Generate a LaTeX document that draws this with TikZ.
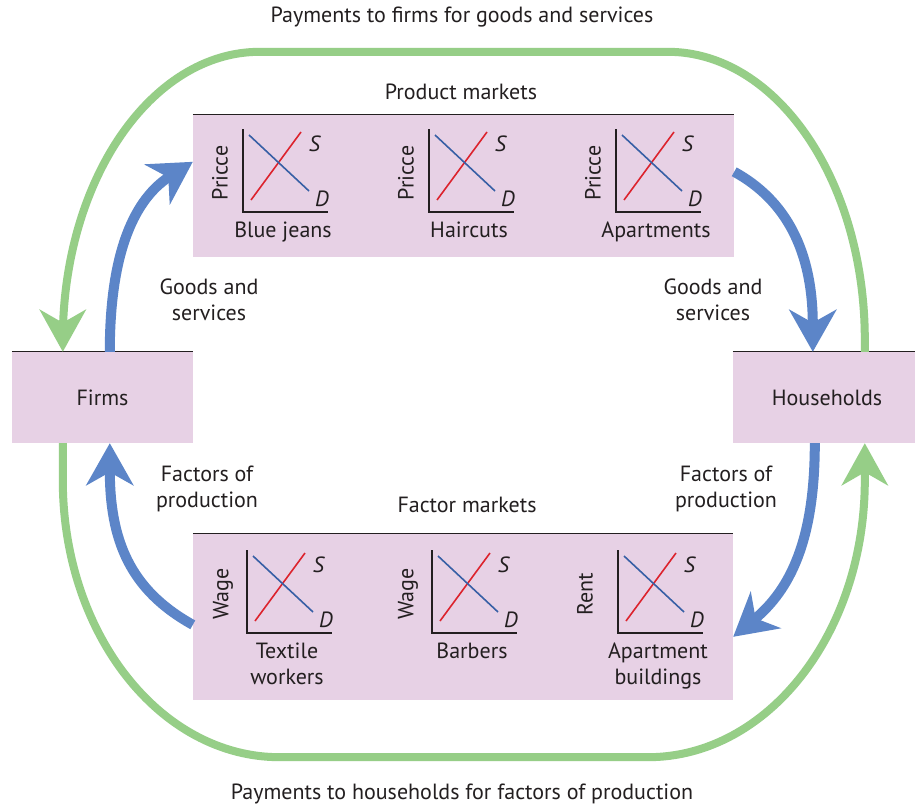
\documentclass[tikz,border=0pt]{standalone}
\usepackage{fontspec}
\setmainfont{PT Sans}
\usetikzlibrary{arrows.meta,calc}
\definecolor{boxfill}{RGB}{231,209,229}
\definecolor{payg}{RGB}{150,206,135}
\definecolor{flowb}{RGB}{92,133,200}
\definecolor{supr}{RGB}{220,35,45}
\definecolor{demb}{RGB}{55,95,165}
\definecolor{ink}{RGB}{35,31,32}
\tikzset{
  box/.style={fill=boxfill, draw=none, inner sep=0pt, font=\fontsize{22}{26}\selectfont, text=ink},
  topline/.style={draw=ink, line width=1.3pt},
  lbl/.style={font=\fontsize{22}{26}\selectfont, text=ink, inner sep=0pt, align=center},
  greenflow/.style={draw=payg, line width=8pt, -{Stealth[length=42pt, width=46pt, inset=13pt]}},
  blueflow/.style={draw=flowb, line width=10pt, -{Stealth[length=42pt, width=47pt, inset=13pt]}},
  axisline/.style={draw=ink, line width=1.4pt},
  supplyline/.style={draw=supr, line width=1.6pt},
  demandline/.style={draw=demb, line width=1.6pt},
}
\newcommand\sdchart[5]{%
  \begin{scope}[shift={(#1,#2)}]
    \draw[axisline] (0,-83) -- (0,0) -- (85,0);
    \draw[supplyline] (8,-12) -- (58,-80);
    \draw[demandline] (6,-77) -- (66,-21);
    \node[lbl] at (72,-68) {\textit{S}};
    \node[lbl] at (79,-13) {\textit{D}};
    \node[lbl, rotate=90] at (#5,-39) {#3};
    \node[lbl, anchor=north] at (40,10) {#4};
  \end{scope}}
\begin{document}
\begin{tikzpicture}[x=1pt, y=-1pt]
\useasboundingbox (0,0) rectangle (915,806);
\fill[white] (0,0) rectangle (915,806);

% boxes
\node[box, minimum width=181pt, minimum height=91pt] (firms) at (102.5,397.5) {Firms};
\node[box, minimum width=182pt, minimum height=91pt] (households) at (824,397.5) {\hspace*{6pt}Households};
\node[box, minimum width=541pt, minimum height=142pt] (product) at (463.5,186) {};
\node[box, minimum width=540pt, minimum height=166pt] (factor) at (463,617) {};
\foreach \b in {firms,households,product,factor}
  \draw[topline] (\b.north west) -- (\b.north east);

% titles
\node[lbl] (ttop) at (462,17) {Payments to firms for goods and services};
\node[lbl] (tbot) at (462,794) {Payments to households for factors of production};
\node[lbl] (tprod) at (461,92) {Product markets};
\node[lbl] (tfact) at (467,505) {Factor markets};
\node[lbl] (gsl) at (209,300) {Goods and\\services};
\node[lbl] (gsr) at (713,300) {Goods and\\services};
\node[lbl] (fpl) at (207,489) {Factors of\\production};
\node[lbl] (fpr) at (726,489) {Factors of\\production};

% charts
\sdchart{243}{212}{Pricce}{Blue jeans}{-23}
\sdchart{429}{212}{Pricce}{Haircuts}{-23}
\sdchart{616}{212}{Pricce}{Apartments}{-23}
\sdchart{247}{633}{Wage}{Textile\\workers}{-24}
\sdchart{432}{633}{Wage}{Barbers}{-24}
\sdchart{618}{633}{Rent}{Apartment\\buildings}{-33}

% green payment loops
\draw[greenflow] ($(households.north west)+(132,0)$) -- ++(0,-12)
  .. controls +(0,-159) and +(109,0) .. ++(-197,-288)
  -- ++(-408,0)
  .. controls +(-109,0) and +(0,-159) .. ++(-197,288)
  -- ($(firms.north west)+(51,0)$);
\draw[greenflow] ($(firms.south west)+(51,0)$) -- ++(0,37)
  .. controls +(0,153) and +(-120,0) .. ++(217,277)
  -- ++(368,0)
  .. controls +(120,0) and +(0,153) .. ++(217,-277)
  -- ($(households.south west)+(132,0)$);

% blue real flows
\draw[blueflow] ($(firms.north west)+(98,0)$) .. controls +(0,-112) and +(-52,33) .. ($(product.north west)+(0,47)$);
\draw[blueflow] ($(product.north east)+(0,57)$) .. controls +(51,28) and +(0,-102) .. ($(households.north west)+(80,0)$);
\draw[blueflow] ($(households.south west)+(82,0)$) .. controls +(0,97) and +(57,-47) .. ($(factor.north east)+(0,103)$);
\draw[blueflow] ($(factor.north west)+(0,91)$) .. controls +(-63,-35) and +(0,97) .. ($(firms.south west)+(98,0)$);
\end{tikzpicture}
\end{document}
